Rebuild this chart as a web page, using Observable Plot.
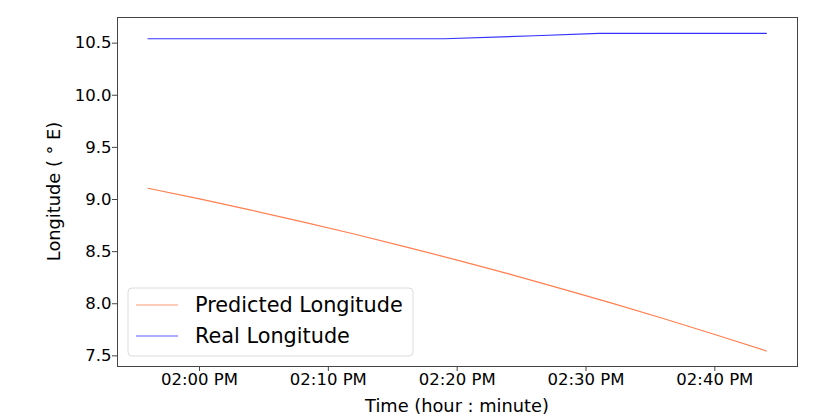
<!DOCTYPE html>
<html><head><meta charset="utf-8">
<script src="https://cdn.jsdelivr.net/npm/d3@7"></script>
<script src="https://cdn.jsdelivr.net/npm/@observablehq/plot@0.6"></script>
<style>body{margin:0;background:#fff} #chart svg{font-family:"DejaVu Sans",sans-serif;overflow:visible}</style>
</head><body><div id="chart"></div>
<script>
// Data
const predTimes  = ["13:56","14:00","14:04","14:08","14:12","14:16","14:20","14:24","14:28","14:32","14:36","14:40","14:44"];
const predValues = [9.108, 9.006, 8.898, 8.786, 8.669, 8.546, 8.419, 8.286, 8.148, 8.006, 7.858, 7.705, 7.547];
const realTimes  = ["13:56","14:19","14:26","14:31","14:44"];
const realValues = [10.542, 10.542, 10.571, 10.593, 10.593];
const xTickTimes = ["14:00","14:10","14:20","14:30","14:40"];
const yTicks = [7.5, 8.0, 8.5, 9.0, 9.5, 10.0, 10.5];
const seriesNames = ["Predicted Longitude", "Real Longitude"];
const seriesColors = ["#ff7f50", "#3333ff"];

const parse = s => new Date(Date.UTC(2020, 0, 1, +s.slice(0, 2), +s.slice(3, 5)));
const pred = predTimes.map((t, i) => ({time: parse(t), value: predValues[i]}));
const real = realTimes.map((t, i) => ({time: parse(t), value: realValues[i]}));
const fmt = d3.utcFormat("%I:%M %p");

const W = 831, H = 419;
const chart = Plot.plot({
  width: W, height: H,
  marginLeft: 117, marginRight: 34, marginTop: 17, marginBottom: 53,
  style: {fontSize: "16.5px", fontFamily: "DejaVu Sans, sans-serif", color: "#000", background: "#fff"},
  x: {type: "utc", domain: [new Date(Date.UTC(2020,0,1,13,53,38)), new Date(Date.UTC(2020,0,1,14,46,25))]},
  y: {domain: [7.398, 10.746]},
  marks: [
    Plot.line(pred, {x: "time", y: "value", stroke: seriesColors[0], strokeWidth: 1.2}),
    Plot.line(real, {x: "time", y: "value", stroke: seriesColors[1], strokeWidth: 1.2}),
    Plot.axisX({ticks: xTickTimes.map(parse), tickFormat: fmt, tickSize: 5, tickPadding: 2, label: null, stroke: "#444"}),
    Plot.axisY({ticks: yTicks, tickFormat: d3.format(".1f"), tickSize: 5, tickPadding: 1, label: null, stroke: "#444"}),
    Plot.frame({stroke: "#444", strokeWidth: 1})
  ]
});
document.getElementById("chart").appendChild(chart);

// Axis labels and legend
const svg = d3.select(chart);
svg.append("text").attr("x", 457).attr("y", 412).attr("text-anchor", "middle")
  .attr("font-size", 17.8).attr("fill", "#000").text("Time (hour : minute)");
svg.append("text").attr("transform", "translate(60,191.5) rotate(-90)").attr("text-anchor", "middle")
  .attr("font-size", 17.8).attr("fill", "#000").text("Longitude ( ° E)");

const lg = svg.append("g");
lg.append("rect").attr("x", 128).attr("y", 288).attr("width", 285).attr("height", 68).attr("rx", 4)
  .attr("fill", "#fff").attr("fill-opacity", 0.85).attr("stroke", "#dcdcdc");
seriesNames.forEach((name, i) => {
  const y = 305 + i * 31;
  lg.append("line").attr("x1", 136).attr("x2", 178).attr("y1", y).attr("y2", y)
    .attr("stroke", seriesColors[i]).attr("stroke-width", 1.2).attr("stroke-opacity", 0.8);
  lg.append("text").attr("x", 195).attr("y", y).attr("dy", "0.36em").attr("text-anchor", "start")
    .attr("font-size", 20.8).attr("fill", "#000").text(name);
});
</script></body></html>
